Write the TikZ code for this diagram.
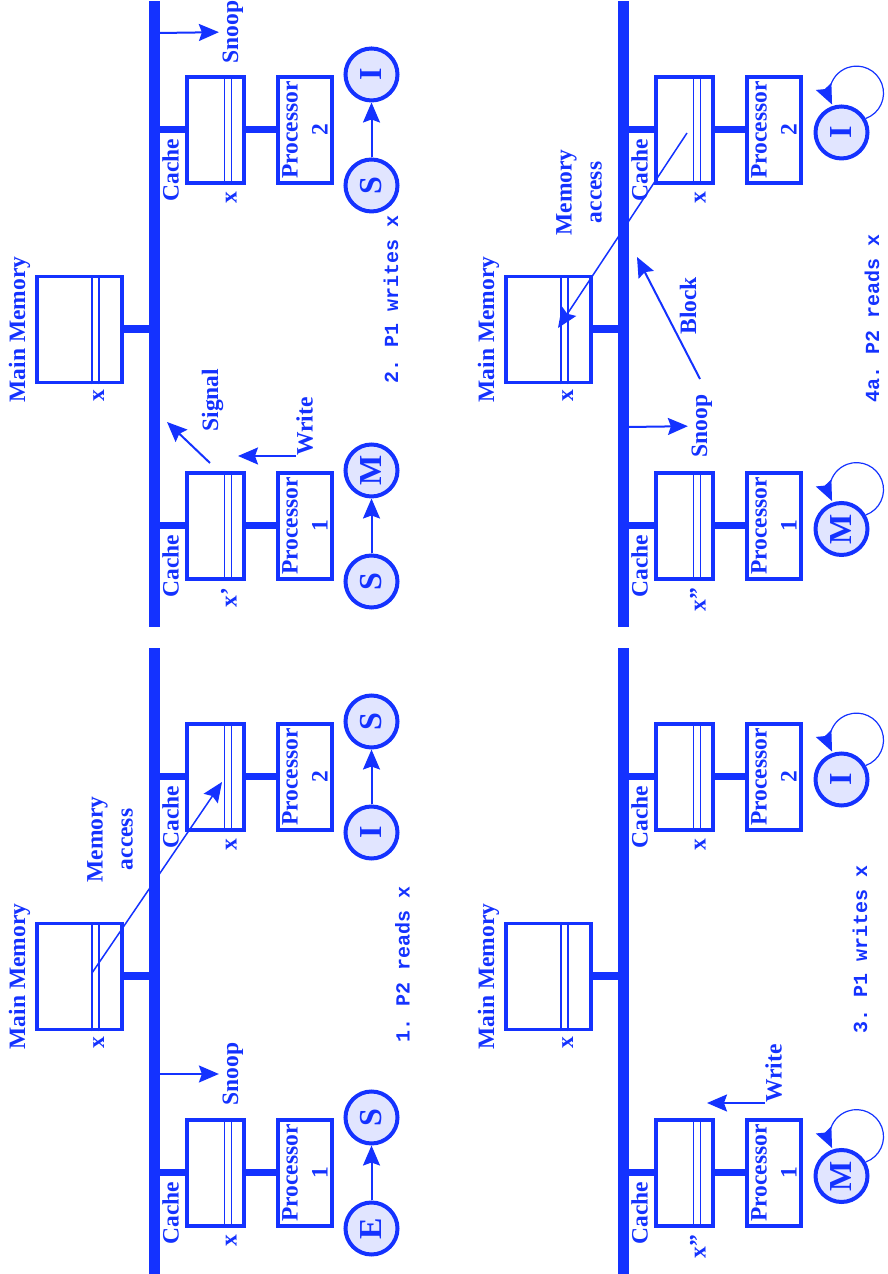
\documentclass[tikz,border=0pt]{standalone}
\usepackage{fontspec}
\setmainfont{Liberation Serif}
\setmonofont{Liberation Mono}
\usetikzlibrary{arrows.meta,calc}
\definecolor{busblue}{RGB}{20,50,255}
\definecolor{statefill}{RGB}{225,229,255}
\newcommand{\lblfont}{\fontsize{23.5}{30}\selectfont\bfseries}
\newcommand{\panelfont}{\fontsize{20}{24}\selectfont\ttfamily\bfseries}
\newcommand{\stfont}{\fontsize{32}{36}\selectfont\bfseries}

\begin{document}
\begin{tikzpicture}[rotate=90, transform shape, x=1pt, y=1pt,
  >={Stealth[length=20pt,width=17pt,inset=3pt]},
  lab/.style={text=busblue, font=\lblfont},
  unit/.style={draw=busblue, line width=3.8pt, inner sep=0pt, minimum width=106pt},
  wire/.style={busblue, line width=7pt},
  bus/.style={busblue, line width=11pt},
  slot/.style={busblue, line width=1.5pt},
  state/.style={circle, draw=busblue, fill=statefill, line width=4pt, minimum size=52pt, inner sep=0pt, text=busblue, font=\stfont},
  flow/.style={->, busblue, line width=2pt},
  access/.style={->, busblue, line width=1.5pt},
  selfloop/.style={->, busblue, line width=1.2pt},
  panel/.style={text=busblue, font=\panelfont}]
  \useasboundingbox (0,0) rectangle (1274,-888);

  % common part of the four snapshots: bus, memory, two caches, two processors
  \foreach \p/\dx/\dy/\xa in {1/0/0/x, 2/647/0/x', 3/0/-469/x", 4/647/-469/x"}{
    \begin{scope}[shift={(\dx,\dy)}]
      \draw[bus] (0,-154) -- (626,-154);
      \node[unit, minimum height=85pt] (mem\p) at (297.5,-79.5) {};
      \node[unit, minimum height=57pt] (ca\p) at (101,-215.5) {};
      \node[unit, minimum height=57pt] (cb\p) at (497,-215.5) {};
      \node[unit, minimum height=54pt, align=center, text=busblue, font=\lblfont] (pa\p) at (101,-305) {Processor\\1};
      \node[unit, minimum height=54pt, align=center, text=busblue, font=\lblfont] (pb\p) at (497,-305) {Processor\\2};
      \coordinate (bm\p) at (297.5,-149);
      \coordinate (ba\p) at (101,-159);
      \coordinate (bb\p) at (497,-159);
      \draw[wire, line width=8pt] (mem\p) -- (bm\p);
      \draw[wire] (ca\p) -- (ba\p);
      \draw[wire] (cb\p) -- (bb\p);
      \draw[wire] (ca\p) -- (pa\p);
      \draw[wire] (cb\p) -- (pb\p);
      \draw[slot] ($(mem\p.south west)+(0,31.75)$) -- ($(mem\p.south east)+(0,31.75)$);
      \draw[slot] ($(mem\p.south west)+(0,24.75)$) -- ($(mem\p.south east)+(0,24.75)$);
      \foreach \c in {ca,cb}{
        \draw[slot] ($(\c\p.south west)+(0,21.25)$) -- ($(\c\p.south east)+(0,21.25)$);
        \draw[slot] ($(\c\p.south west)+(0,14.25)$) -- ($(\c\p.south east)+(0,14.25)$);
      }
      \node[lab, anchor=base] (mm\p) at (297.5,-25) {Main Memory};
      \node[lab, anchor=base west] (cla\p) at (26,-178.5) {Cache};
      \node[lab, anchor=base west] (clb\p) at (422,-178.5) {Cache};
      \node[lab, anchor=base east] (xm\p) at (241,-104) {x};
      \node[lab, anchor=base east] (xa\p) at (43,-236.5) {\xa};
      \node[lab, anchor=base east] (xb\p) at (439,-236.5) {x};
    \end{scope}
  }

  % 1. P2 reads x
  \begin{scope}
    \node[state] (e1) at (45.5,-371.5) {E};
    \node[state] (sa1) at (156.5,-371.5) {S};
    \node[state] (ib1) at (441.5,-371.5) {I};
    \node[state] (sb1) at (552.5,-371.5) {S};
    \draw[flow] (e1) -- (sa1);
    \draw[flow] (ib1) -- (sb1);
    \coordinate (bs1) at (200,-160);
    \node[lab, anchor=base] (snoop1) at (200,-238) {Snoop};
    \draw[flow] (bs1) -- (snoop1);
    \coordinate (ml1) at (301,-92);
    \coordinate (cl1) at (492,-222);
    \draw[access] (ml1) -- (cl1);
    \node[lab, align=center] (acc1) at (434.5,-110) {Memory\\access};
    \node[panel] (cap1) at (310,-402.5) {1. P2 reads x};
  \end{scope}

  % 2. P1 writes x
  \begin{scope}[shift={(647,0)}]
    \node[state] (sa2) at (45.5,-371.5) {S};
    \node[state] (ma2) at (156.5,-371.5) {M};
    \node[state] (sb2) at (441.5,-371.5) {S};
    \node[state] (ib2) at (552.5,-371.5) {I};
    \draw[flow] (sa2) -- (ma2);
    \draw[flow] (sb2) -- (ib2);
    \coordinate (bs2) at (594,-160);
    \node[lab, anchor=base] (snoop2) at (595,-238) {Snoop};
    \draw[flow] (bs2) -- (snoop2);
    \node[lab, inner sep=0pt, anchor=north west] (wr2) at (171,-296) {Write};
    \coordinate (wt2) at (171,-238);
    \draw[flow] (wr2.north west) -- (wt2);
    \coordinate (sg2) at (164,-210);
    \coordinate (sgt2) at (205,-167);
    \draw[flow] (sg2) -- (sgt2);
    \node[lab, anchor=base west] (sig2) at (192,-218) {Signal};
    \node[panel] (cap2) at (328,-391) {2. P1 writes x};
  \end{scope}

  % 3. P1 writes x
  \begin{scope}[shift={(0,-469)}]
    \node[state] (ma3) at (98,-372.5) {M};
    \node[state] (ib3) at (494.5,-372.5) {I};
    \draw[selfloop] (ma3.-60) arc[start angle=200, end angle=475, radius=27];
    \draw[selfloop] (ib3.-60) arc[start angle=200, end angle=475, radius=27];
    \node[lab, inner sep=0pt, anchor=north west] (wr3) at (171,-296) {Write};
    \coordinate (wt3) at (171,-238);
    \draw[flow] (wr3.north west) -- (wt3);
    \node[panel] (cap3) at (325,-391) {3. P1 writes x};
  \end{scope}

  % 4a. P2 reads x
  \begin{scope}[shift={(647,-469)}]
    \node[state] (ma4) at (98,-372.5) {M};
    \node[state] (ib4) at (494.5,-372.5) {I};
    \draw[selfloop] (ma4.-60) arc[start angle=200, end angle=475, radius=27];
    \draw[selfloop] (ib4.-60) arc[start angle=200, end angle=475, radius=27];
    \coordinate (bs4) at (200,-160);
    \node[lab, anchor=base] (snoop4) at (201,-238) {Snoop};
    \draw[flow] (bs4) -- (snoop4);
    \coordinate (cl4) at (494,-218);
    \coordinate (ml4) at (299,-89);
    \draw[access] (cl4) -- (ml4);
    \node[lab, align=center] (acc4) at (434.5,-110) {Memory\\access};
    \coordinate (bk4) at (248,-231);
    \coordinate (bkt4) at (370,-168);
    \draw[flow] (bk4) -- (bkt4);
    \node[lab, anchor=base west] (blk4) at (289,-227) {Block};
    \node[panel] (cap4) at (309,-403) {4a. P2 reads x};
  \end{scope}
\end{tikzpicture}
\end{document}
